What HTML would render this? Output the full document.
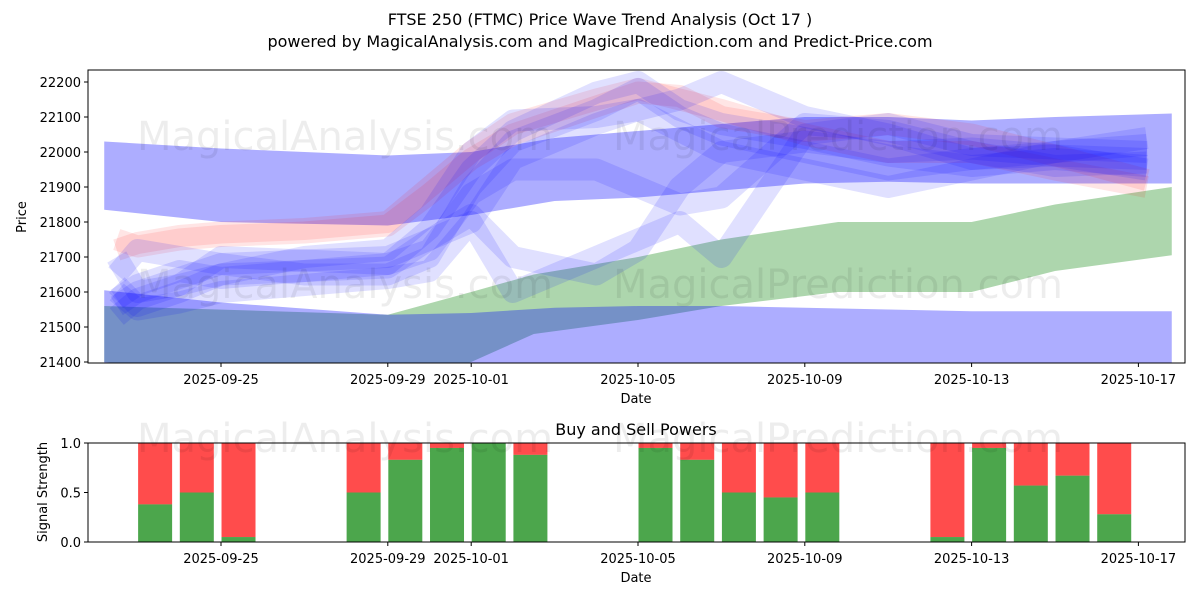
<!DOCTYPE html>
<html><head><meta charset="utf-8">
<style>
body{margin:0;background:#fff;font-family:"Liberation Sans","DejaVu Sans",sans-serif;}
svg text{font-family:"DejaVu Sans","Liberation Sans",sans-serif;}
</style></head>
<body>
<svg id="c" width="1200" height="600" viewBox="0 0 1200 600">
<text x="600" y="25" text-anchor="middle" font-size="16" fill="#000">FTSE 250 (FTMC) Price Wave Trend Analysis (Oct 17 )</text>
<text x="600" y="47" text-anchor="middle" font-size="16" fill="#000">powered by MagicalAnalysis.com and MagicalPrediction.com and Predict-Price.com</text>
<defs>
<clipPath id="cp1"><rect x="88" y="70" width="1097" height="293"/></clipPath>
<clipPath id="cp2"><rect x="88" y="443" width="1097" height="99"/></clipPath>
</defs>
<g id="topg" clip-path="url(#cp1)"></g>
<g id="botg" clip-path="url(#cp2)"></g>
<g id="axesg"></g>
</svg>
<script>
// ---- data ----
const xTickLabels=["2025-09-25","2025-09-29","2025-10-01","2025-10-05","2025-10-09","2025-10-13","2025-10-17"];
const xTickDays=[0,4,6,10,14,18,22];
const yTicks=[21400,21500,21600,21700,21800,21900,22000,22100,22200];
const sigTicks=[0,0.5,1];
const bandDays=[-2.8,0,4,6,8,10,12,14,16,18,20,22.8];
const topBandUpper=[22030,22010,21990,22000,22040,22060,22080,22100,22100,22090,22100,22110];
const topBandLower=[21835,21800,21790,21820,21860,21870,21890,21910,21915,21910,21910,21910];
const lowBandUpper=[21605,21570,21535,21540,21555,21560,21560,21555,21550,21545,21545,21545];
const lowBandLower=[21260,21260,21260,21260,21260,21260,21260,21260,21260,21260,21260,21260];
const greenDays=[-2.8,4,6,7.5,10,12,14.8,18,20,22.8];
const greenUpper=[21560,21535,21600,21650,21700,21750,21800,21800,21850,21900];
const greenLower=[21400,21330,21400,21480,21520,21560,21600,21600,21660,21705];
const waveDays=[-2.5,-2,-1,0,2,4,5,6,7,9,10,11,12,14,16,18,20,22.2];
const waves=[
 {c:"red",v:[21720,21740,21760,21770,21780,21800,21900,22000,22080,22150,22180,22150,22120,22050,22000,22000,21950,21900]},
 {c:"red",v:[21750,21730,21750,21760,21770,21790,21880,21980,22050,22130,22170,22160,22100,22060,22080,22050,21990,21920]},
 {c:"blue",v:[21560,21600,21640,21680,21650,21650,21700,21900,22030,22120,22180,22100,22050,22000,21950,21980,21990,21950]},
 {c:"blue",v:[21530,21580,21620,21700,21690,21680,21720,21880,21950,21950,21900,21850,21870,22080,22060,22000,21960,21970]},
 {c:"blue",v:[21600,21550,21570,21600,21620,21640,21660,21800,21600,21700,21750,21800,21700,22050,22080,22020,22010,22000]},
 {c:"blue",v:[21650,21720,21700,21680,21690,21700,21750,21800,21980,22080,22120,22150,22200,22100,22050,21980,22000,22020]},
 {c:"blue",v:[21580,21620,21660,21640,21660,21680,21780,21950,22060,22170,22200,22120,22080,22040,21990,21960,21980,21960]},
 {c:"blue",v:[21700,21600,21620,21650,21700,21720,21820,22000,22090,22100,22120,22060,22000,21950,21900,21950,22000,22040]},
 {c:"blue",v:[21620,21560,21600,21650,21660,21670,21750,21820,21700,21650,21720,21900,22000,22030,22000,22010,21990,21980]}
];
const barDays=[-2,-1,0,3,4,5,6,7,10,11,12,13,14,17,18,19,20,21];
const buyVals=[0.38,0.5,0.05,0.5,0.83,0.95,1.0,0.88,0.95,0.83,0.5,0.45,0.5,0.05,0.95,0.57,0.67,0.28];
// ---- scales ----
const NS="http://www.w3.org/2000/svg";
const X=d=>221+d*41.7;
const Y=v=>362-(v-21400)*0.35;
const Y2=v=>542-v*99;
function mk(t,a,p){const e=document.createElementNS(NS,t);for(const k in a)e.setAttribute(k,a[k]);p.appendChild(e);return e;}
const topG=document.getElementById('topg'),botG=document.getElementById('botg'),axG=document.getElementById('axesg');
function bandPts(days,up,lo){let p=days.map((d,i)=>X(d)+","+Y(up[i]));for(let i=days.length-1;i>=0;i--)p.push(X(days[i])+","+Y(lo[i]));return p.join(" ");}
let g=mk('polygon',{points:bandPts(greenDays,greenUpper,greenLower),fill:"green","fill-opacity":0.32},topG);


let b1=mk('polygon',{points:bandPts(bandDays,lowBandUpper,lowBandLower),fill:"blue","fill-opacity":0.32},topG);


let b2=mk('polygon',{points:bandPts(bandDays,topBandUpper,topBandLower),fill:"blue","fill-opacity":0.32},topG);


waves.forEach((w,i)=>{
 const l=mk('polyline',{points:w.v.map((v,j)=>X(waveDays[j])+","+Y(v)).join(" "),fill:"none",stroke:w.c,"stroke-opacity":w.c=="red"?0.1:0.12,"stroke-width":22,"stroke-linejoin":"round"},topG);
 
 
});
[[345,150],[838,150],[345,298],[838,298],[345,452],[838,452]].forEach(p=>{
 const t=mk('text',{x:p[0],y:p[1],"text-anchor":"middle","font-size":40,fill:"rgba(0,0,0,0.07)"},axG);
 t.textContent=p[0]<600?"MagicalAnalysis.com":"MagicalPrediction.com";
 
 
});
barDays.forEach((d,i)=>{
 const x=X(d+0.42)-17;
 const r=mk('rect',{x:x,y:Y2(1),width:34,height:Y2(buyVals[i])-Y2(1),fill:"red","fill-opacity":0.7},botG);
 
 
 const gr=mk('rect',{x:x,y:Y2(buyVals[i]),width:34,height:Y2(0)-Y2(buyVals[i]),fill:"green","fill-opacity":0.7},botG);
 
 
});
const f1=mk('rect',{x:88,y:70,width:1097,height:293,fill:"none",stroke:"#000","stroke-width":1},axG);


const f2=mk('rect',{x:88,y:443,width:1097,height:99,fill:"none",stroke:"#000","stroke-width":1},axG);


xTickDays.forEach((d,i)=>{
 [[363,380],[542,559]].forEach(p=>{
  mk('line',{x1:X(d),x2:X(d),y1:p[0],y2:p[0]+4,stroke:"#000"},axG);
  const t=mk('text',{x:X(d),y:p[1]+4,"text-anchor":"middle","font-size":13},axG);
  t.textContent=xTickLabels[i];
  
  
 });
});
yTicks.forEach(v=>{
 mk('line',{x1:84,x2:88,y1:Y(v),y2:Y(v),stroke:"#000"},axG);
 const t=mk('text',{x:81,y:Y(v)+5,"text-anchor":"end","font-size":13},axG);
 t.textContent=v;
 
 
});
sigTicks.forEach(v=>{
 mk('line',{x1:84,x2:88,y1:Y2(v),y2:Y2(v),stroke:"#000"},axG);
 const t=mk('text',{x:81,y:Y2(v)+5,"text-anchor":"end","font-size":13},axG);
 t.textContent=v.toFixed(1);
 
 
});
function lbl(x,y,s,name,rot){const t=mk('text',{x:x,y:y,"text-anchor":"middle","font-size":13},axG);if(rot)t.setAttribute('transform','rotate(-90 '+x+' '+y+')');t.textContent=s;

}
lbl(636,403,"Date","x-axis-title");
lbl(636,582,"Date","signal-x-axis-title");
lbl(26,217,"Price","y-axis-title",true);
lbl(47,492,"Signal Strength","signal-y-axis-title",true);
const st=mk('text',{x:636,y:435,"text-anchor":"middle","font-size":16},axG);st.textContent="Buy and Sell Powers";


</script>
</body></html>
